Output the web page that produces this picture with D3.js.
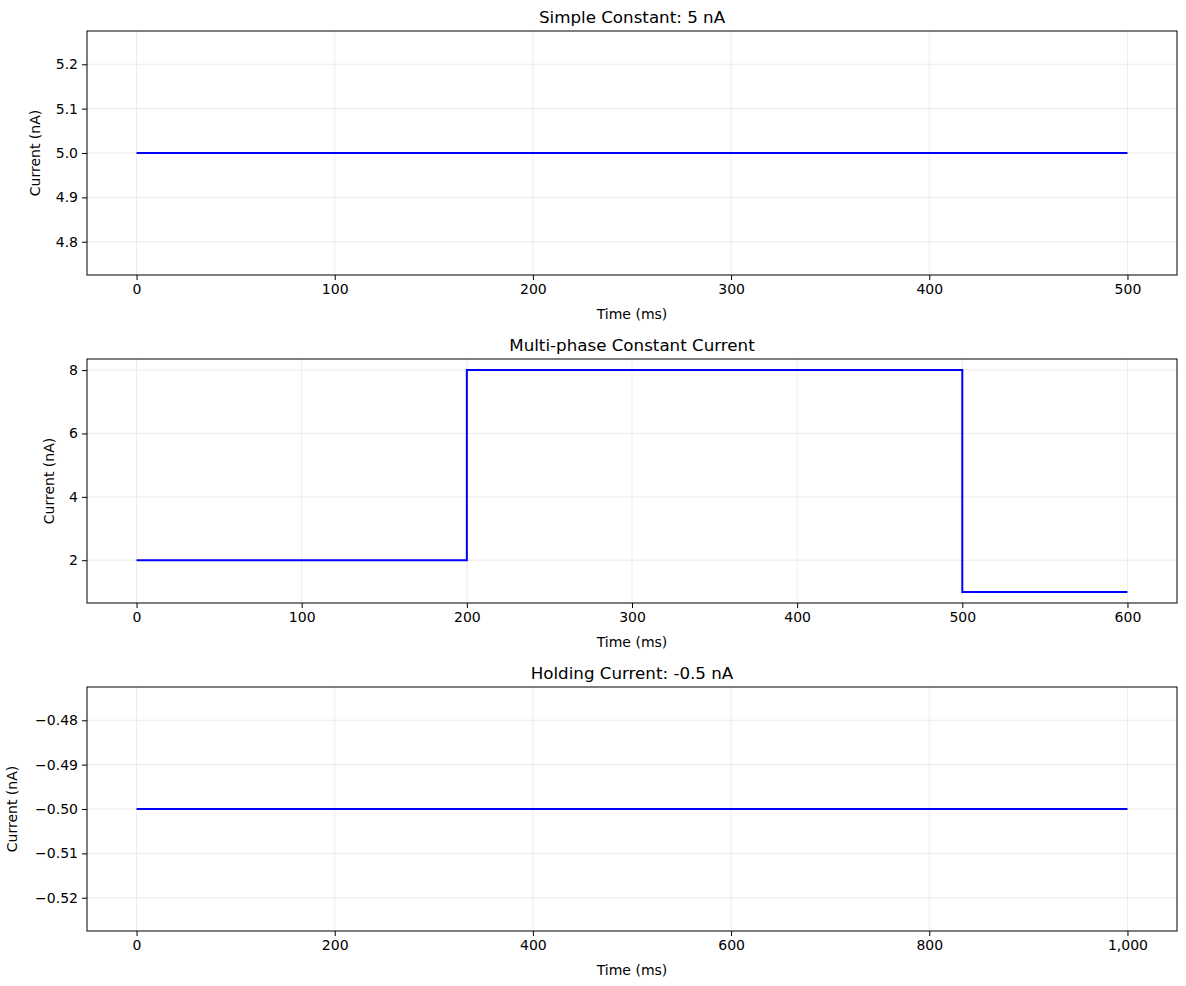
<!DOCTYPE html>
<html><head><meta charset="utf-8">
<script src="https://cdn.jsdelivr.net/npm/d3@7"></script>
<style>body{margin:0;background:#fff}text{font-family:"DejaVu Sans",sans-serif}</style>
</head><body><div id="vis"></div>
<script>
// Panel data: step points (time, current)
const simpleT = [0, 500];
const simpleI = [5, 5];
const multiT = [0, 200, 200, 500, 500, 600];
const multiI = [2, 2, 8, 8, 1, 1];
const holdT = [0, 1000];
const holdI = [-0.5, -0.5];

const titles = ["Simple Constant: 5 nA", "Multi-phase Constant Current", "Holding Current: -0.5 nA"];
const xTicks = [[0,100,200,300,400,500],[0,100,200,300,400,500,600],[0,200,400,600,800,1000]];
const yTicks = [[4.8,4.9,5.0,5.1,5.2],[2,4,6,8],[-0.52,-0.51,-0.50,-0.49,-0.48]];
const yFmt = [d3.format(".1f"), d3.format("d"), d => d3.format(".2f")(d).replace("-", "\u2212")];
const xDom = [[-25,525],[-30,630],[-50,1050]];
const yDom = [[4.725,5.275],[0.65,8.35],[-0.5275,-0.4725]];
const yLabelX = [40, 54, 17];
const tops = [31, 359, 687];

const W = 1186, H = 986, left = 87, right = 1177, ph = 244;
const svg = d3.select("#vis").append("svg").attr("width", W).attr("height", H);

const series = [[simpleT, simpleI],[multiT, multiI],[holdT, holdI]];

series.forEach(([ts, vs], k) => {
    const top = tops[k];
    const x = d3.scaleLinear().domain(xDom[k]).range([left, right]);
    const y = d3.scaleLinear().domain(yDom[k]).range([top + ph, top]);
    const g = svg.append("g");

    // grid
    g.selectAll(".gx").data(xTicks[k]).join("line")
        .attr("x1", d => x(d)).attr("x2", d => x(d)).attr("y1", top).attr("y2", top + ph)
        .attr("stroke", "#b0b0b0").attr("stroke-opacity", 0.3).attr("stroke-width", 0.8);
    g.selectAll(".gy").data(yTicks[k]).join("line")
        .attr("y1", d => y(d)).attr("y2", d => y(d)).attr("x1", left).attr("x2", right)
        .attr("stroke", "#b0b0b0").attr("stroke-opacity", 0.3).attr("stroke-width", 0.8);

    const pts = ts.map((t, i) => [t, vs[i]]);
    g.append("path").datum(pts)
        .attr("d", d3.line().x(d => x(d[0])).y(d => y(d[1])))
        .attr("fill", "none").attr("stroke", "blue").attr("stroke-width", 2);

    const xa = g.append("g").attr("transform", `translate(0,${top + ph})`)
        .call(d3.axisBottom(x).tickValues(xTicks[k]).tickSize(5).tickPadding(4));
    const ya = g.append("g").attr("transform", `translate(${left},0)`)
        .call(d3.axisLeft(y).tickValues(yTicks[k]).tickFormat(yFmt[k]).tickSize(5).tickPadding(4));
    [xa, ya].forEach(a => {
        a.select(".domain").remove();
        a.selectAll("text").attr("font-size", 14).attr("fill", "#000").attr("font-family", "DejaVu Sans");
        a.selectAll("line").attr("stroke", "#000");
    });

    g.append("rect").attr("x", left).attr("y", top).attr("width", right - left).attr("height", ph)
        .attr("fill", "none").attr("stroke", "#000").attr("stroke-width", 1);

    g.append("text").attr("x", (left + right) / 2).attr("y", top - 8).attr("text-anchor", "middle")
        .attr("font-size", 16.7).text(titles[k]);
    g.append("text").attr("x", (left + right) / 2).attr("y", top + ph + 44).attr("text-anchor", "middle")
        .attr("font-size", 14).text("Time (ms)");
    g.append("text").attr("transform", `translate(${yLabelX[k]},${top + ph / 2}) rotate(-90)`)
        .attr("text-anchor", "middle").attr("font-size", 14).text("Current (nA)");
});
</script></body></html>
